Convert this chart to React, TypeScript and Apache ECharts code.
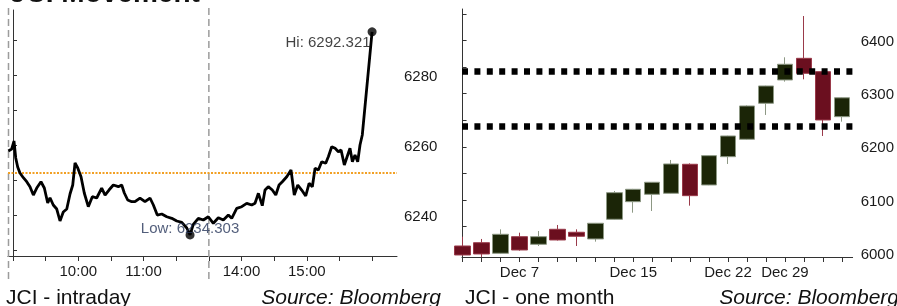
import React, { useEffect, useRef } from 'react';
import * as echarts from 'echarts';

const titleText = 'JCI Movement';
const intradayTitle = 'JCI - intraday';
const monthTitle = 'JCI - one month';
const sourceText = 'Source: Bloomberg';

// trading minutes since 09:00 (lunch break removed; 180 = 13:30)
const intradayMinutes = [
  -4.3, -1.2, 0.9, 2.5, 4.3, 6.4, 9.5, 12.6, 15.6, 18.7, 21.8, 25.7, 28.8, 31.9, 34.0, 37.0, 40.2, 43.2, 46.2, 49.4,
  52.4, 54.9, 57.0, 59.5, 62.5, 65.5, 69.2, 72.9, 76.9, 81.5, 84.6, 88.2, 92.2, 96.8, 99.9, 102.3, 105.4, 109.1, 112.1, 116.7,
  121.3, 125.9, 129.0, 132.6, 136.7, 141.3, 145.9, 150.5, 155.1, 159.7, 162.7, 165.7, 170.3, 174.9, 179.5, 184.1, 188.7, 193.3, 197.9, 201.0,
  205.6, 210.2, 214.8, 219.4, 222.4, 225.5, 229.1, 231.6, 234.6, 238.3, 241.5, 244.5, 247.5, 251.6, 255.5, 258.5, 261.7, 265.3, 269.0, 272.1,
  275.1, 277.6, 280.6, 283.7, 287.4, 289.8, 292.9, 296.0, 299.0, 301.5, 304.5, 307.6, 309.7, 311.9, 314.3, 316.8, 318.9, 321.0, 330.0,
];
const intradayValues = [
  6258.29, 6258.86, 6261.14, 6256.29, 6253.71, 6252.0, 6250.66, 6249.51, 6248.09, 6245.71, 6247.71, 6249.51, 6247.71, 6243.43, 6244.94, 6242.86, 6241.71, 6238.29, 6240.86, 6241.71,
  6246.0, 6248.57, 6254.86, 6253.43, 6250.94, 6246.29, 6242.37, 6245.23, 6244.86, 6247.71, 6245.71, 6247.14, 6248.57, 6248.09, 6248.57, 6246.29, 6244.29, 6243.8, 6243.8, 6244.86,
  6243.8, 6244.86, 6242.86, 6240.0, 6240.29, 6239.51, 6239.06, 6238.29, 6237.91, 6236.29, 6234.303, 6237.34, 6239.06, 6238.57, 6239.51, 6237.63, 6239.23, 6238.57, 6240.0, 6239.06,
  6241.91, 6242.37, 6243.34, 6242.86, 6243.34, 6246.2, 6242.66, 6247.14, 6248.09, 6247.14, 6245.71, 6248.57, 6249.51, 6250.94, 6252.86, 6245.71, 6248.57, 6247.14, 6245.43, 6249.06,
  6248.09, 6253.34, 6252.86, 6255.23, 6254.77, 6256.66, 6259.51, 6259.06, 6258.09, 6258.57, 6254.29, 6257.14, 6259.06, 6255.23, 6257.14, 6255.23, 6260.0, 6262.86, 6292.321,
];
const prevClose = 6252.0;
const hiPoint = [330.0, 6292.321];
const lowPoint = [162.7, 6234.303];
const sessionBreak = 180;
const intradayTicks = [0, 30, 60, 90, 120, 150, 180, 210, 240, 270, 300, 330];
const intradayLabelTicks = [60, 120, 210, 270];
const intradayYTicks = [6230, 6240, 6250, 6260, 6270, 6280, 6290];
const intradayYLabels = [6240, 6260, 6280];

const monthDays = ['Dec 4', 'Dec 5', 'Dec 6', 'Dec 7', 'Dec 8', 'Dec 11', 'Dec 12', 'Dec 13', 'Dec 14', 'Dec 15', 'Dec 18', 'Dec 19', 'Dec 20', 'Dec 21', 'Dec 22', 'Dec 27', 'Dec 28', 'Dec 29', 'Jan 2', 'Jan 3', 'Jan 4'];
const monthOpen = [6013.7, 6019.9, 6000.0, 6031.2, 6016.9, 6045.1, 6039.5, 6026.9, 6063.9, 6097.0, 6110.9, 6112.8, 6167.3, 6128.4, 6181.6, 6214.3, 6282.0, 6325.8, 6366.5, 6341.4, 6256.8];
const monthClose = [5996.8, 5998.7, 6035.7, 6006.2, 6031.2, 6025.0, 6032.0, 6056.4, 6113.9, 6120.3, 6133.5, 6167.9, 6108.3, 6183.5, 6220.5, 6276.9, 6314.5, 6355.3, 6338.3, 6250.6, 6292.3];
const monthLow = [5996.0, 5993.0, 5999.0, 6005.0, 6013.7, 6024.0, 6013.7, 6021.8, 6063.0, 6076.3, 6079.5, 6112.0, 6089.5, 6128.0, 6167.9, 6213.0, 6260.0, 6322.6, 6327.0, 6220.5, 6247.4];
const monthHigh = [6031.2, 6026.9, 6045.0, 6038.7, 6041.9, 6053.2, 6045.0, 6057.0, 6117.1, 6121.0, 6134.0, 6175.4, 6169.0, 6184.0, 6221.0, 6278.0, 6315.0, 6368.4, 6446.0, 6342.0, 6293.0];
const monthLabelDays = ['Dec 7', 'Dec 15', 'Dec 22', 'Dec 29'];
const monthLevels = [6343, 6239];
const monthYTicks = [6000, 6050, 6100, 6150, 6200, 6250, 6300, 6350, 6400, 6450];
const monthYLabels = [6000, 6100, 6200, 6300, 6400];

const FONT = 'Liberation Sans, Arial, sans-serif';

function fmtTime(t: number): string {
  const m = t <= sessionBreak ? 540 + t : 810 + (t - sessionBreak);
  const h = Math.floor(m / 60);
  const mm = Math.round(m - h * 60);
  return `${h}:${mm < 10 ? '0' + mm : mm}`;
}

export default function App() {
  const ref = useRef<HTMLDivElement>(null);
  useEffect(() => {
    if (!ref.current) return;
    const chart = echarts.init(ref.current, null, { renderer: 'svg' });
    const axisLineStyle = { color: '#333', width: 1 };
    const labelBase = { color: '#1a1a1a', fontSize: 15, fontFamily: FONT };
    const option: any = {
      animation: false,
      grid: [
        { left: 8, top: 10, right: 500, bottom: 50 },
        { left: 462, top: 9, right: 40, bottom: 49 },
      ],
      xAxis: [
        {
          type: 'value', gridIndex: 0, min: -4.6, max: 352.9,
          splitLine: { show: false },
          axisLine: { show: true, lineStyle: axisLineStyle },
          axisTick: { show: true, length: 5, customValues: intradayTicks, lineStyle: axisLineStyle },
          axisLabel: { ...labelBase, customValues: intradayLabelTicks, formatter: (v: number) => fmtTime(v), margin: 7 },
        },
        {
          type: 'value', gridIndex: 1, min: -0.03, max: 20.57,
          splitLine: { show: false },
          axisLine: { show: true, lineStyle: axisLineStyle },
          axisTick: { show: true, length: 5, customValues: monthDays.map((_, i) => i), lineStyle: axisLineStyle },
          axisLabel: { ...labelBase, customValues: monthLabelDays.map((d) => monthDays.indexOf(d)), formatter: (v: number) => monthDays[Math.round(v)], margin: 7 },
        },
      ],
      yAxis: [
        {
          type: 'value', gridIndex: 0, position: 'right', min: 6228.29, max: 6298.57,
          splitLine: { show: false },
          axisLine: { show: true, lineStyle: axisLineStyle },
          axisTick: { show: true, length: 4, customValues: intradayYTicks, lineStyle: axisLineStyle },
          axisLabel: { ...labelBase, customValues: intradayYLabels, formatter: (v: number) => String(Math.round(v)), margin: 7 },
        },
        {
          type: 'value', gridIndex: 1, position: 'right', min: 5993, max: 6459.2,
          splitLine: { show: false },
          axisLine: { show: true, lineStyle: axisLineStyle },
          axisTick: { show: true, length: 4, customValues: monthYTicks, lineStyle: axisLineStyle },
          axisLabel: { ...labelBase, customValues: monthYLabels, formatter: (v: number) => String(Math.round(v)), margin: 8 },
        },
      ],
      series: [
        {
          type: 'line', xAxisIndex: 0, yAxisIndex: 0,
          data: intradayMinutes.map((t, i) => [t, intradayValues[i]]),
          showSymbol: false, symbol: 'none',
          lineStyle: { color: '#000', width: 2.8 },
          z: 3,
          markLine: {
            silent: true, symbol: ['none', 'none'], label: { show: false },
            lineStyle: { color: '#f2a024', type: [2, 1.5], width: 2 },
            data: [{ yAxis: prevClose }],
            z: 2,
          },
        },
        {
          type: 'scatter', xAxisIndex: 0, yAxisIndex: 0,
          symbolSize: 9, itemStyle: { color: '#000' }, z: 4,
          data: [
            { value: hiPoint, label: { ...labelBase, show: true, formatter: 'Hi: ' + hiPoint[1].toFixed(3), position: 'left', distance: 0, offset: [3, 10], color: '#111' } },
            { value: lowPoint, label: { ...labelBase, show: true, formatter: 'Low: ' + lowPoint[1].toFixed(3), position: 'top', distance: 0, offset: [0, 5], color: '#27365a' } },
          ],
        },
        {
          type: 'candlestick', xAxisIndex: 1, yAxisIndex: 1,
          barWidth: 16, clip: true,
          data: monthOpen.map((o, i) => [i, o, monthClose[i], monthLow[i], monthHigh[i]]),
          itemStyle: {
            color: '#1b2507', color0: '#6b0f1f',
            borderColor: '#8d9884', borderColor0: '#9a3a4a', borderWidth: 1,
          },
          markLine: {
            silent: true, symbol: ['none', 'none'], label: { show: false },
            lineStyle: { color: '#000', type: [6, 6.4], width: 6.5 },
            data: monthLevels.map((v) => ({ yAxis: v })),
          },
        },
      ],
    };
    chart.setOption(option);

    const xBreak = chart.convertToPixel({ xAxisIndex: 0 }, sessionBreak) as number;
    const xStart = chart.convertToPixel({ xAxisIndex: 0 }, -4.6) as number;
    const dashStyle = { stroke: '#9c9c9c', lineWidth: 1.5, lineDash: [7, 4] };
    chart.setOption({
      graphic: [
        { type: 'line', shape: { x1: xStart + 0.5, y1: 8, x2: xStart + 0.5, y2: 279 }, style: dashStyle, z: 1 },
        { type: 'line', shape: { x1: xBreak, y1: 8, x2: xBreak, y2: 279 }, style: dashStyle, z: 1 },
        { type: 'text', x: 10, y: -8, style: { text: titleText, font: `bold 28px ${FONT}`, fill: '#111', textVerticalAlign: 'middle' } },
        { type: 'text', x: 6, y: 296, style: { text: intradayTitle, font: `21px ${FONT}`, fill: '#111', textVerticalAlign: 'middle' } },
        { type: 'text', x: 441, y: 296, style: { text: sourceText, font: `italic 21px ${FONT}`, fill: '#111', textAlign: 'right', textVerticalAlign: 'middle' } },
        { type: 'text', x: 465, y: 296, style: { text: monthTitle, font: `21px ${FONT}`, fill: '#111', textVerticalAlign: 'middle' } },
        { type: 'text', x: 899, y: 296, style: { text: sourceText, font: `italic 21px ${FONT}`, fill: '#111', textAlign: 'right', textVerticalAlign: 'middle' } },
      ],
    });
    return () => chart.dispose();
  }, []);
  return <div ref={ref} style={{ position: 'fixed', left: 0, top: 0, width: 897, height: 306 }} />;
}
